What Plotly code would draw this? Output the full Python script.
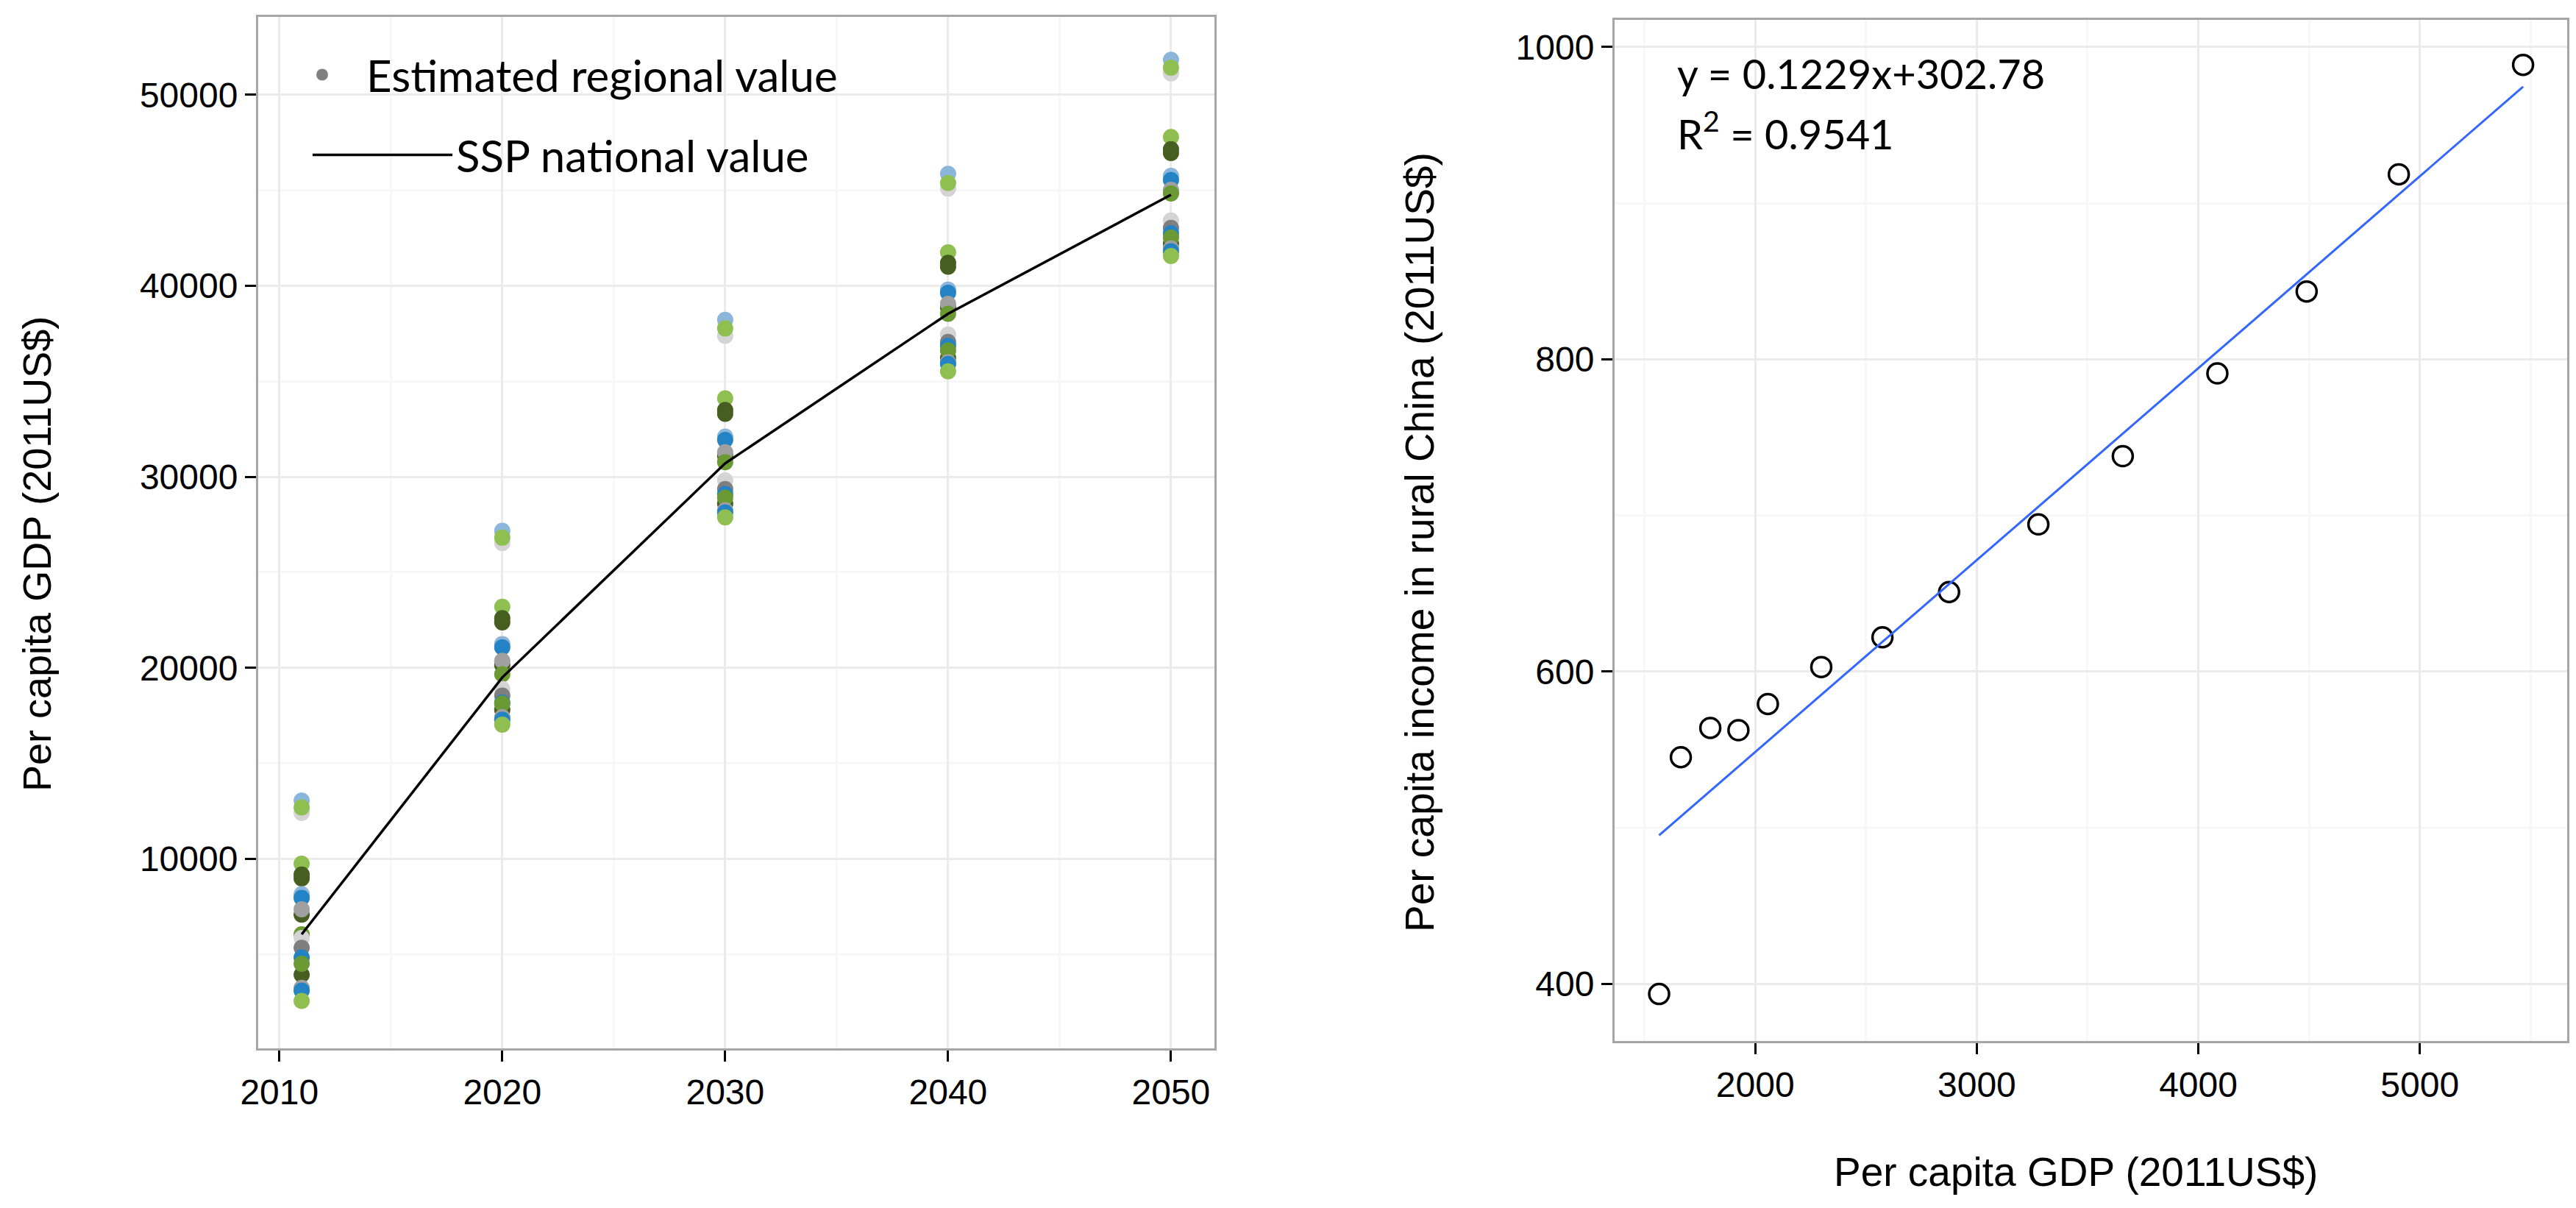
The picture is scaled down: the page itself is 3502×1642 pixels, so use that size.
import plotly.graph_objects as go

# ---------------- data: left panel (per capita GDP, 2011US$) ----------------
years = [2011, 2020, 2030, 2040, 2050]

light_blue_1 = [13054, 27177, 38215, 45856, 51825]
light_gray_1 = [12411, 26534, 37383, 45085, 51118]
light_green_1 = [12696, 26815, 37769, 45378, 51413]
light_green_2 = [9754, 23195, 34109, 41746, 47782]
dark_green_1 = [9180, 22600, 33500, 41200, 47150]
dark_green_2 = [8980, 22380, 33300, 41000, 46950]
light_blue_2 = [8150, 21250, 32100, 39800, 45750]
blue_1 = [7959, 21077, 31926, 39628, 45533]
dark_green_3 = [7085, 20150, 31100, 38850, 44900]
gray_1 = [7366, 20371, 31283, 39051, 45020]
green_1 = [6056, 19667, 30770, 38537, 44827]
light_gray_2 = [5864, 18897, 29810, 37444, 43415]
dark_gray_1 = [5351, 18550, 29357, 37059, 43030]
blue_2 = [4839, 18188, 29100, 36850, 42750]
dark_green_4 = [3938, 17803, 28587, 36227, 42196]
green_2 = [4516, 18126, 28907, 36613, 42517]
gray_2 = [3250, 17420, 28250, 36000, 41950]
blue_3 = [3106, 17290, 28137, 35905, 41811]
light_green_4 = [2567, 17033, 27880, 35520, 41554]

ssp_national = [6056, 19500, 30705, 38537, 44763]

# ---------------- data: right panel ----------------
gdp_per_capita = [1566, 1664, 1797, 1924, 2057, 2298, 2574, 2875, 3278, 3659, 4086, 4489, 4905, 5466]
rural_income = [393.6, 545.2, 564.0, 562.5, 579.3, 603.0, 622.0, 651.0, 694.3, 738.0, 791.0, 843.5, 918.5, 988.6]
fit_slope = 0.1229
fit_intercept = 302.78
fit_r2 = 0.9541

left_x_ticks = [2010, 2020, 2030, 2040, 2050]
left_y_ticks = [10000, 20000, 30000, 40000, 50000]
right_x_ticks = [2000, 3000, 4000, 5000]
right_y_ticks = [400, 600, 800, 1000]

# ---------------- styles ----------------
C_LBLUE = "#8CB5DC"
C_BLUE = "#2383C4"
C_LGRAY = "#D4D4D4"
C_GRAY = "#A0A0A0"
C_DGRAY = "#7F7F7F"
C_LGREEN = "#8FBF50"
C_GREEN = "#6B9934"
C_DGREEN = "#465F20"

regional = [
    (light_blue_1, C_LBLUE), (light_gray_1, C_LGRAY), (light_green_1, C_LGREEN),
    (light_green_2, C_LGREEN), (dark_green_1, C_DGREEN), (dark_green_2, C_DGREEN),
    (light_blue_2, C_LBLUE), (blue_1, C_BLUE), (dark_green_3, C_DGREEN),
    (gray_1, C_GRAY), (green_1, C_GREEN), (light_gray_2, C_LGRAY),
    (dark_gray_1, C_DGRAY), (blue_2, C_BLUE), (dark_green_4, C_DGREEN),
    (green_2, C_GREEN), (gray_2, C_GRAY), (blue_3, C_BLUE), (light_green_4, C_LGREEN),
]

W, H = 3502, 1642
TICK_FONT = dict(family="Liberation Sans, Arial, sans-serif", size=48, color="black")
TITLE_FONT = dict(family="Liberation Sans, Arial, sans-serif", size=54, color="black")
TITLE_FONT_R = dict(family="Liberation Sans, Arial, sans-serif", size=55, color="black")
LEGEND_FONT = dict(family="Lato, Open Sans, sans-serif", size=60, color="black")
TEXT_FONT = dict(family="Lato, Open Sans, sans-serif", size=56, color="black")

def px_x(p):
    return p / W

def px_y(p):
    return 1 - p / H

# panel boxes in pixels (left, top, right, bottom)
LP = (343, 15, 1643, 1417)
RP = (2187, 19, 3482, 1407)

fig = go.Figure()

# legend-only entry for the regional points
fig.add_trace(go.Scatter(
    x=[None], y=[None], mode="markers", name="Estimated regional value",
    marker=dict(color="#808080", size=16), legend="legend",
    xaxis="x", yaxis="y", showlegend=True))

for vals, col in regional:
    fig.add_trace(go.Scatter(
        x=years, y=vals, mode="markers", showlegend=False,
        marker=dict(color=col, size=22, line=dict(width=0)),
        xaxis="x", yaxis="y", hoverinfo="x+y"))

fig.add_trace(go.Scatter(
    x=years, y=ssp_national, mode="lines", name="SSP national value",
    line=dict(color="black", width=3.5), legend="legend2",
    xaxis="x", yaxis="y", showlegend=True))

# right panel
fit_x = [min(gdp_per_capita), max(gdp_per_capita)]
fit_y = [fit_slope * v + fit_intercept for v in fit_x]
fig.add_trace(go.Scatter(
    x=gdp_per_capita, y=rural_income, mode="markers", showlegend=False,
    marker=dict(symbol="circle-open", color="black", size=27, line=dict(width=3.5, color="black")),
    xaxis="x2", yaxis="y2"))
fig.add_trace(go.Scatter(
    x=fit_x, y=fit_y, mode="lines", showlegend=False,
    line=dict(color="#3366FF", width=3),
    xaxis="x2", yaxis="y2"))

def axis_common():
    return dict(
        showgrid=True, gridcolor="#EBEBEB", gridwidth=3,
        showline=True, mirror=True, linecolor="#A6A6A6", linewidth=3,
        ticks="outside", ticklen=15, tickwidth=3, tickcolor="black",
        tickfont=TICK_FONT, zeroline=False, automargin=False,
        tickformat="d",
    )

fig.update_layout(
    width=W, height=H,
    margin=dict(l=0, r=0, t=0, b=0),
    paper_bgcolor="white", plot_bgcolor="white",
    showlegend=True,
    legend=dict(
        x=px_x(370), y=px_y(48), xanchor="left", yanchor="top",
        font=LEGEND_FONT, bgcolor="rgba(0,0,0,0)", itemwidth=110,
    ),
    legend2=dict(
        x=px_x(412), y=px_y(157), xanchor="left", yanchor="top",
        font=LEGEND_FONT, bgcolor="rgba(0,0,0,0)", itemwidth=190,
    ),
    xaxis=dict(domain=[px_x(LP[0]), px_x(LP[2])], range=[2009.05, 2051.95],
               tickvals=left_x_ticks, anchor="y",
               minor=dict(dtick=5, tick0=2010, showgrid=True, gridcolor="#F7F7F7", gridwidth=3, ticklen=0),
               **axis_common()),
    yaxis=dict(domain=[px_y(LP[3]), px_y(LP[1])], range=[87, 54071],
               tickvals=left_y_ticks, anchor="x",
               minor=dict(dtick=5000, tick0=0, showgrid=True, gridcolor="#F7F7F7", gridwidth=3, ticklen=0),
               **axis_common()),
    xaxis2=dict(domain=[px_x(RP[0]), px_x(RP[2])], range=[1365, 5665],
                tickvals=right_x_ticks, anchor="y2",
                minor=dict(dtick=500, tick0=0, showgrid=True, gridcolor="#F7F7F7", gridwidth=3, ticklen=0),
                **axis_common()),
    yaxis2=dict(domain=[px_y(RP[3]), px_y(RP[1])], range=[363.5, 1017.4],
                tickvals=right_y_ticks, anchor="x2",
                minor=dict(dtick=100, tick0=0, showgrid=True, gridcolor="#F7F7F7", gridwidth=3, ticklen=0),
                **axis_common()),
)

annotations = [
    dict(text="Per capita GDP (2011US$)", x=px_x(42), y=px_y(745),
         xref="paper", yref="paper", textangle=-90, showarrow=False,
         xanchor="center", yanchor="middle", font=TITLE_FONT),
    dict(text="Per capita income in rural China (2011US$)", x=px_x(1922), y=px_y(729),
         xref="paper", yref="paper", textangle=-90, showarrow=False,
         xanchor="center", yanchor="middle", font=TITLE_FONT_R),
    dict(text="Per capita GDP (2011US$)", x=px_x(2814), y=px_y(1585),
         xref="paper", yref="paper", showarrow=False,
         xanchor="center", yanchor="middle", font=TITLE_FONT_R),
    dict(text=f"y = {fit_slope}x+{fit_intercept}", x=px_x(2270), y=px_y(92),
         xref="paper", yref="paper", showarrow=False,
         xanchor="left", yanchor="middle", font=TEXT_FONT),
    dict(text=f"R<sup>2</sup> = {fit_r2}", x=px_x(2270), y=px_y(169),
         xref="paper", yref="paper", showarrow=False,
         xanchor="left", yanchor="middle", font=TEXT_FONT),
]
fig.update_layout(annotations=annotations)

fig.write_html("out.html")
